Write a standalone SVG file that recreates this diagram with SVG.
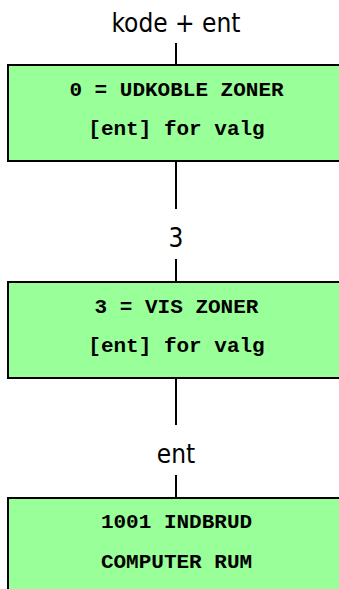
<svg xmlns="http://www.w3.org/2000/svg" width="339" height="589" viewBox="0 0 339 589">
<style>
.box{fill:#99FF99;stroke:#000;stroke-width:2}
.bt{font-family:"Liberation Mono","Courier New",monospace;font-weight:bold;font-size:21px;fill:#000;text-anchor:middle}
.lbl{font-family:"DejaVu Sans Condensed","DejaVu Sans",sans-serif;font-size:26px;fill:#000;text-anchor:middle}
.con{stroke:#000;stroke-width:2;fill:none}
</style>
<rect width="339" height="589" fill="#fff"/>
<g id="connectors">
<line class="con" x1="176" y1="43" x2="176" y2="65"/>
<line class="con" x1="176" y1="161" x2="176" y2="209"/>
<line class="con" x1="176" y1="259" x2="176" y2="282"/>
<line class="con" x1="176" y1="378" x2="176" y2="425"/>
<line class="con" x1="176" y1="475" x2="176" y2="498"/>
</g>
<g id="labels">
<text class="lbl" x="176" y="32">kode + ent</text>
<text class="lbl" x="176" y="247">3</text>
<text class="lbl" x="176" y="463">ent</text>
</g>
<g id="node1">
<rect class="box" x="8" y="65" width="340" height="96"/>
<text class="bt" x="176.5" y="95.5">0 = UDKOBLE ZONER</text>
<text class="bt" x="176.5" y="135">[ent] for valg</text>
</g>
<g id="node2">
<rect class="box" x="8" y="282" width="340" height="96"/>
<text class="bt" x="176.5" y="312.5">3 = VIS ZONER</text>
<text class="bt" x="176.5" y="352">[ent] for valg</text>
</g>
<g id="node3">
<rect class="box" x="8" y="498" width="340" height="100"/>
<text class="bt" x="176.5" y="528">1001 INDBRUD</text>
<text class="bt" x="176.5" y="567.5">COMPUTER RUM</text>
</g>
</svg>
